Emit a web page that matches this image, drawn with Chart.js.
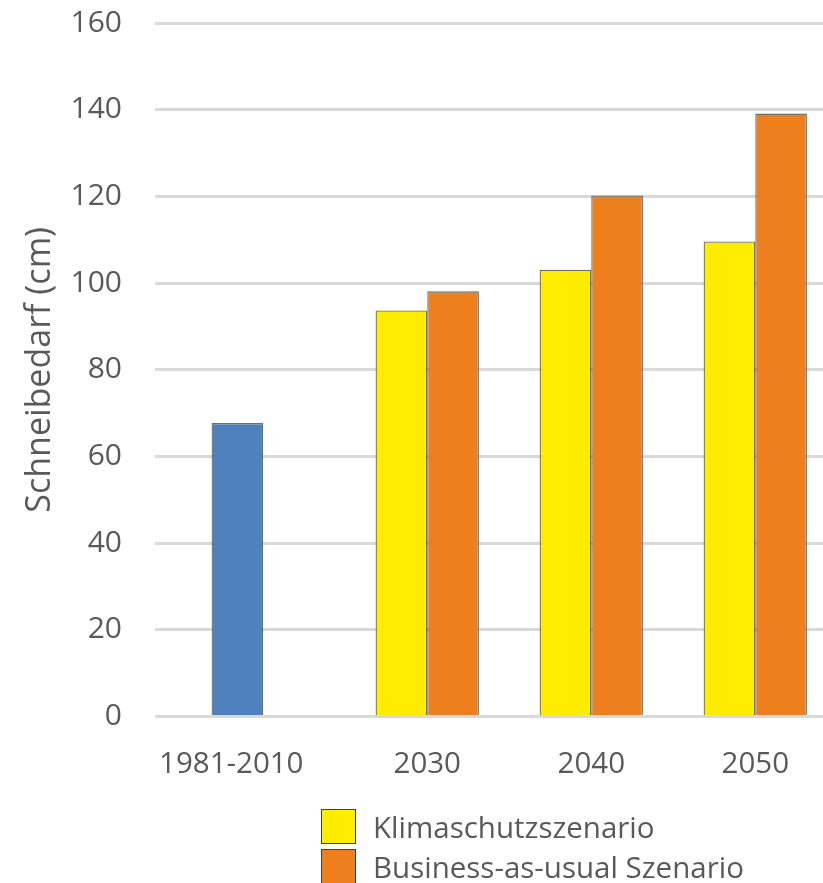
<!DOCTYPE html>
<html>
<head>
<meta charset="utf-8">
<script src="https://cdn.jsdelivr.net/npm/chart.js@4"></script>
<style>
  html, body { margin: 0; padding: 0; background: #fff; overflow: hidden; }
  #wrap { position: relative; width: 823px; height: 883px; overflow: hidden; }
  #c { position: absolute; left: 0; top: -28px; }
  #legend { position: absolute; left: 321px; top: 806px; font-family: "Open Sans", sans-serif; font-size: 29.5px; color: #595959; }
  .item { display: flex; align-items: center; height: 40px; }
  .sw { width: 35px; height: 35px; border: 1.5px solid #404040; margin-right: 17px; box-sizing: border-box; }
</style>
</head>
<body>
<div id="wrap">
  <canvas id="c" width="823" height="840" style="width:823px;height:840px;display:block"></canvas>
  <div id="legend"></div>
</div>
<script>
const categories = ["1981-2010", "2030", "2040", "2050"];
const klimaschutz = [67.7, 93.7, 103.1, 109.6];   // first value = reference period 1981-2010
const businessAsUsual = [null, 98.1, 120.2, 139.1];
const yTicks = [0, 20, 40, 60, 80, 100, 120, 140, 160];
const seriesNames = ["Klimaschutzszenario", "Business-as-usual Szenario"];

const BLUE = "#4f81bd", YELLOW = "#ffec00", ORANGE = "#ee7f1d";
const FONT = "'Open Sans', sans-serif";
const GREY = "#595959";
const BORDER = "rgba(60,60,60,0.75)";
const firstLabelShift = -0.195; // label of the reference period sits left of its bar group

const xIdx = categories.map((_, i) => i);

new Chart(document.getElementById("c"), {
  type: "bar",
  data: {
    datasets: [
      {
        label: seriesNames[0],
        data: xIdx.map(i => ({ x: i, y: klimaschutz[i] })),
        backgroundColor: xIdx.map(i => i === 0 ? BLUE : YELLOW),
        borderColor: BORDER,
        borderWidth: 1.3,
        categoryPercentage: 0.63,
        barPercentage: 1.0
      },
      {
        label: seriesNames[1],
        data: xIdx.map(i => ({ x: i, y: businessAsUsual[i] })),
        backgroundColor: ORANGE,
        borderColor: BORDER,
        borderWidth: 1.3,
        categoryPercentage: 0.63,
        barPercentage: 1.0
      }
    ]
  },
  options: {
    responsive: false,
    animation: false,
    layout: { padding: { top: 8, right: 0, left: 0, bottom: 0 } },
    plugins: { legend: { display: false }, tooltip: { enabled: false } },
    scales: {
      x: {
        type: "linear",
        offset: false,
        min: -0.66,
        max: 3.413,
        grid: { display: false, drawTicks: false, offset: false },
        border: { display: false },
        afterBuildTicks: (s) => {
          s.ticks = xIdx.map(i => ({ value: i === 0 ? i + firstLabelShift : i }));
        },
        ticks: {
          autoSkip: false,
          maxRotation: 0,
          padding: 30,
          color: GREY,
          font: { family: FONT, size: 29.5 },
          callback: (v, i) => categories[i]
        }
      },
      y: {
        min: 0,
        max: 160,
        afterBuildTicks: (s) => { s.ticks = yTicks.map(v => ({ value: v })); },
        afterFit: (s) => { s.width = 155; },
        grid: { color: "#d9d9d9", lineWidth: 3, drawTicks: false },
        border: { display: false },
        ticks: {
          padding: 33,
          color: GREY,
          font: { family: FONT, size: 30 }
        },
        title: {
          display: true,
          text: "Schneibedarf (cm)",
          color: GREY,
          font: { family: FONT, size: 34, weight: "normal" },
          padding: { top: 20, bottom: 0 }
        }
      }
    }
  }
});

const legend = document.getElementById("legend");
[[seriesNames[0], YELLOW], [seriesNames[1], ORANGE]].forEach(([name, col]) => {
  const d = document.createElement("div");
  d.className = "item";
  const sw = document.createElement("span");
  sw.className = "sw";
  sw.style.background = col;
  const t = document.createElement("span");
  t.textContent = name;
  d.appendChild(sw); d.appendChild(t);
  legend.appendChild(d);
});
</script>
</body>
</html>
